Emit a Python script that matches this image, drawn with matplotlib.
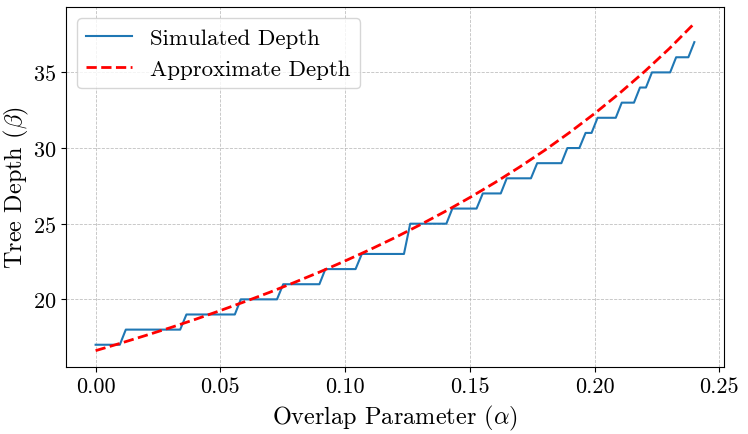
#!/usr/bin/env python3
"""
Tree depth vs overlap parameter: simulated (stepped) and approximate depth
"""

import matplotlib
matplotlib.use('Agg')
import matplotlib.pyplot as plt

# corners of the simulated depth line
sim_alpha = [0.0, 0.0097, 0.0121, 0.0339, 0.0364, 0.0558, 0.0582, 0.0727,
             0.0752, 0.0897, 0.0921, 0.1042, 0.1067, 0.1236, 0.1261, 0.1406,
             0.1430, 0.1527, 0.1552, 0.1624, 0.1648, 0.1745, 0.1770, 0.1867,
             0.1891, 0.1939, 0.1964, 0.1988, 0.2012, 0.2085, 0.2109, 0.2158,
             0.2182, 0.2206, 0.2230, 0.2303, 0.2327, 0.2376, 0.2400]
sim_depth = [17, 17, 18, 18, 19, 19, 20, 20,
             21, 21, 22, 22, 23, 23, 25, 25,
             26, 26, 27, 27, 28, 28, 29, 29,
             30, 30, 31, 31, 32, 32, 33, 33,
             34, 34, 35, 35, 36, 36, 37]

# approximate depth curve, sampled every 0.01
approx_alpha = [0.00, 0.01, 0.02, 0.03, 0.04, 0.05, 0.06, 0.07, 0.08, 0.09,
                0.10, 0.11, 0.12, 0.13, 0.14, 0.15, 0.16, 0.17, 0.18, 0.19,
                0.20, 0.21, 0.22, 0.23, 0.24]
approx_depth = [16.61, 17.10, 17.61, 18.13, 18.68, 19.26, 19.86, 20.48, 21.14,
                21.82, 22.54, 23.29, 24.08, 24.92, 25.80, 26.73, 27.71, 28.75,
                29.85, 31.03, 32.28, 33.62, 35.05, 36.58, 38.24]

plt.rcParams['font.family'] = 'cmr10'
plt.rcParams['mathtext.fontset'] = 'cm'
plt.rcParams['axes.formatter.use_mathtext'] = True

fig, ax = plt.subplots(figsize=(7.48, 4.35), dpi=100)
fig.subplots_adjust(left=0.0878, right=0.9683, top=0.9816, bottom=0.154)

ax.plot(sim_alpha, sim_depth, label='Simulated Depth', linewidth=1.5, color='#1f77b4')
ax.plot(approx_alpha, approx_depth, label='Approximate Depth', linewidth=2,
        color='red', linestyle='--')

ax.set_xlabel(r'Overlap Parameter ($\alpha$)', fontsize=17.5, labelpad=5)
ax.set_ylabel(r'Tree Depth ($\beta$)', fontsize=17.5, labelpad=1)
ax.set_xticks([0.00, 0.05, 0.10, 0.15, 0.20, 0.25])
ax.set_xticklabels(['0.00', '0.05', '0.10', '0.15', '0.20', '0.25'])
ax.set_yticks([20, 25, 30, 35])
ax.tick_params(labelsize=16)
ax.grid(True, linestyle='--', linewidth=0.6, color='#b0b0b0', alpha=0.8)
ax.legend(loc='upper left', fontsize=16.5)

fig.savefig('out.png', dpi=100)
